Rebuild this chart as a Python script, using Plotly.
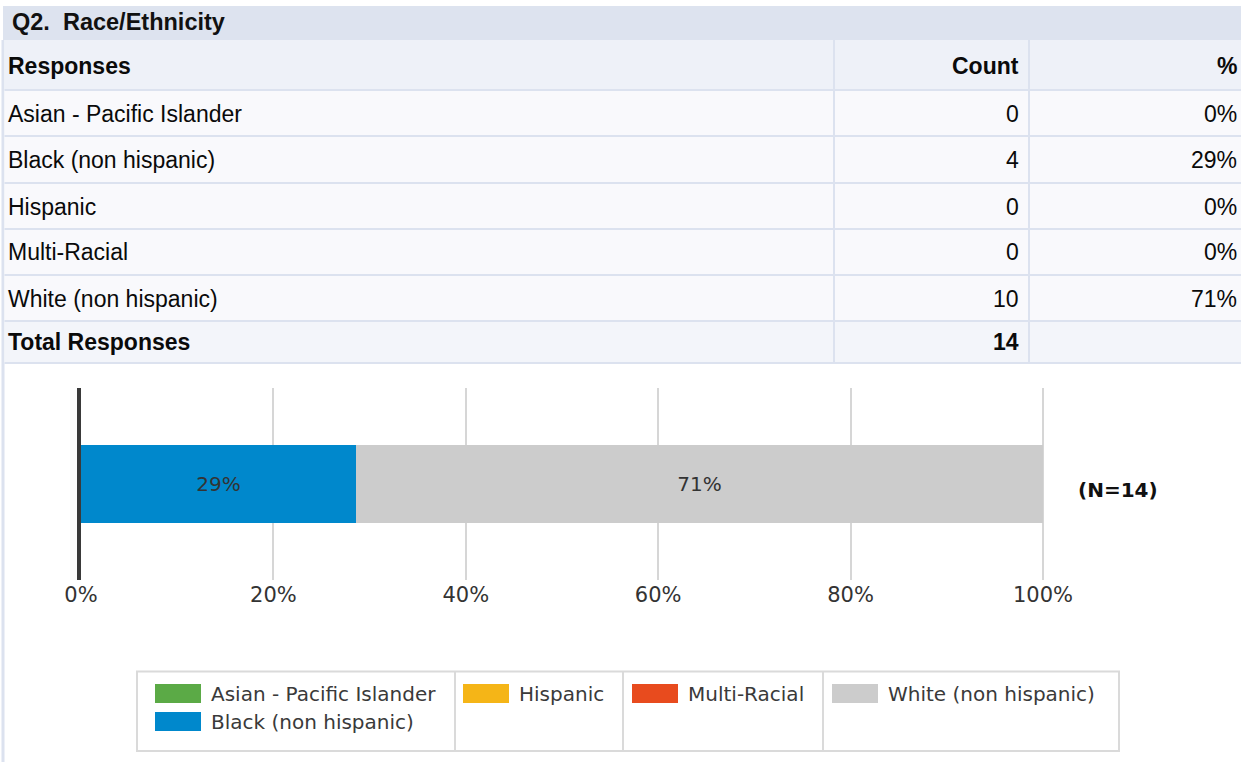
import plotly.graph_objects as go

# ---------------- data ----------------
title_text = "Q2.\u00a0\u00a0Race/Ethnicity"
header = ["Responses", "Count", "%"]
responses = ["Asian - Pacific Islander", "Black (non hispanic)", "Hispanic",
             "Multi-Racial", "White (non hispanic)"]
counts = [0, 4, 0, 0, 10]
pct_labels = ["0%", "29%", "0%", "0%", "71%"]
shares = [0.0, 28.57, 0.0, 0.0, 71.43]
total_label = "Total Responses"
total_count = 14
colors = ["#5BAA46", "#0088CC", "#F5B517", "#E84B1E", "#CCCCCC"]
x_ticks = [0, 20, 40, 60, 80, 100]
x_tick_text = ["0%", "20%", "40%", "60%", "80%", "100%"]
n_label = "(N=14)"

W, H = 1241, 762


def px(x):
    return x / W


def py(y):
    return 1 - y / H


fig = go.Figure()

# ---------------- stacked bar ----------------
for name, val, col in zip(responses, shares, colors):
    fig.add_trace(go.Bar(
        y=["Q2"], x=[val], orientation="h", name=name,
        marker=dict(color=col, line=dict(width=0)),
        text=[f"{round(val)}%" if val > 0 else ""],
        textposition="inside", insidetextanchor="middle",
        textfont=dict(family="DejaVu Sans", size=20, color="#333333"),
        hoverinfo="skip", showlegend=False,
    ))

shapes = []
ann = []

LINE = "#DCE2EF"

# ---------------- table ----------------
# left page border
shapes.append(dict(type="rect", xref="paper", yref="paper", x0=px(1.5), x1=px(4.5),
                   y0=py(762), y1=py(40), fillcolor=LINE, line=dict(width=0), layer="below"))
# title band
shapes.append(dict(type="rect", xref="paper", yref="paper", x0=px(3), x1=px(W),
                   y0=py(40), y1=py(6), fillcolor="#DDE3EF", line=dict(width=0), layer="below"))
ann.append(dict(x=px(10), y=py(22.5), xref="paper", yref="paper", xanchor="left", yanchor="middle",
                text=f"<b>{title_text}</b>", showarrow=False,
                font=dict(family="Liberation Sans", size=23.5, color="#111111")))

row_edges = [40, 90, 136, 183, 229, 275, 321, 363]
row_fill = ["#EEF1F8"] + ["#F9F9FC"] * 5 + ["#F3F5FA"]
for i in range(len(row_edges) - 1):
    shapes.append(dict(type="rect", xref="paper", yref="paper", x0=px(4.5), x1=px(W),
                       y0=py(row_edges[i + 1]), y1=py(row_edges[i]),
                       fillcolor=row_fill[i], line=dict(width=0), layer="below"))
for y in row_edges[1:]:
    shapes.append(dict(type="line", xref="paper", yref="paper", x0=px(4.5), x1=px(W),
                       y0=py(y), y1=py(y), line=dict(color=LINE, width=2), layer="below"))
for x in [834, 1029]:
    shapes.append(dict(type="line", xref="paper", yref="paper", x0=px(x), x1=px(x),
                       y0=py(363), y1=py(40), line=dict(color=LINE, width=2), layer="below"))

tf = dict(family="Liberation Sans", size=23, color="#0A0A0A")
rows = [[f"<b>{header[0]}</b>", f"<b>{header[1]}</b>", f"<b>{header[2]}</b>"]]
for r, c, p in zip(responses, counts, pct_labels):
    rows.append([r, str(c), p])
rows.append([f"<b>{total_label}</b>", f"<b>{total_count}</b>", ""])
for i, row in enumerate(rows):
    yc = py((row_edges[i] + row_edges[i + 1]) / 2 + 0.5)
    ann.append(dict(x=px(6), y=yc, xref="paper", yref="paper", xanchor="left", yanchor="middle",
                    text=row[0], showarrow=False, font=tf))
    ann.append(dict(x=px(1021), y=yc, xref="paper", yref="paper", xanchor="right", yanchor="middle",
                    text=row[1], showarrow=False, font=tf))
    ann.append(dict(x=px(1239), y=yc, xref="paper", yref="paper", xanchor="right", yanchor="middle",
                    text=row[2], showarrow=False, font=tf))

# ---------------- N label ----------------
ann.append(dict(x=px(1118), y=py(490), xref="paper", yref="paper", xanchor="center", yanchor="middle",
                text=f"<b>{n_label}</b>", showarrow=False,
                font=dict(family="DejaVu Sans", size=20, color="#111111")))

# ---------------- legend box ----------------
LG = "#DADADA"
shapes.append(dict(type="rect", xref="paper", yref="paper", x0=px(137), x1=px(1119),
                   y0=py(751), y1=py(671.5), fillcolor="rgba(0,0,0,0)", line=dict(color=LG, width=2)))
for x in [455, 623, 823]:
    shapes.append(dict(type="line", xref="paper", yref="paper", x0=px(x), x1=px(x),
                       y0=py(751), y1=py(671.5), line=dict(color=LG, width=2)))
leg_pos = [(155, 684), (155, 712), (463, 684), (632, 684), (832, 684)]
for (lx, ly), name, col in zip(leg_pos, responses, colors):
    shapes.append(dict(type="rect", xref="paper", yref="paper", x0=px(lx), x1=px(lx + 46),
                       y0=py(ly + 19), y1=py(ly), fillcolor=col, line=dict(width=0)))
    ann.append(dict(x=px(lx + 54), y=py(ly + 9.5), xref="paper", yref="paper", xanchor="left",
                    yanchor="middle", text=name, showarrow=False,
                    font=dict(family="DejaVu Sans", size=20, color="#3A3A3A")))

x0p, x100p = 81, 1043
xmax = 100.2
fig.update_layout(
    width=W, height=H, autosize=False,
    margin=dict(l=0, r=0, t=0, b=0, pad=0, autoexpand=False),
    paper_bgcolor="white", plot_bgcolor="white",
    barmode="stack", bargap=0.597,
    shapes=shapes, annotations=ann,
    showlegend=False,
    xaxis=dict(
        domain=[px(x0p), px(x0p + (x100p - x0p) * xmax / 100)],
        range=[0, xmax], tickmode="array", tickvals=x_ticks, ticktext=x_tick_text,
        showgrid=True, gridcolor="#D6D6D6", gridwidth=1.5,
        zeroline=False, showline=False, automargin=False,
        ticks="", ticklen=0,
        tickfont=dict(family="DejaVu Sans", size=21, color="#333333"),
        anchor="y",
    ),
    yaxis=dict(
        domain=[py(580), py(388)], range=[-0.5, 0.5], automargin=False,
        showticklabels=False, showgrid=False, zeroline=False,
        showline=True, linecolor="#3A3A3A", linewidth=4,
        type="category",
    ),
)

fig.write_html(
    "out.html",
    config={"displayModeBar": False},
    post_script="document.body.style.margin='0';document.body.style.overflow='hidden';",
)
